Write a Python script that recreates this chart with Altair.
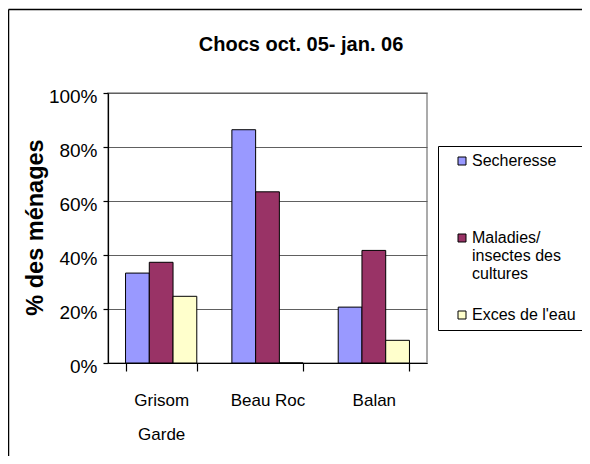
import altair as alt
import pandas as pd

sites = ["Grisom Garde", "Beau Roc", "Balan"]
series = ["Secheresse", "Maladies/ insectes des cultures", "Exces de l'eau"]
secheresse = [0.333, 0.864, 0.207]
maladies = [0.373, 0.634, 0.417]
exces = [0.247, 0.0, 0.084]
colors = ["#9999FF", "#993366", "#FFFFCC"]
y_ticks = [0, 0.2, 0.4, 0.6, 0.8, 1.0]
title_text = "Chocs oct. 05- jan. 06"
y_title = "% des ménages"

rows = []
for i, s in enumerate(sites):
    for name, vals in zip(series, [secheresse, maladies, exces]):
        rows.append({"site": s, "serie": name, "value": vals[i]})
df = pd.DataFrame(rows)

FONT = "Liberation Sans, Arial, sans-serif"
NB = "\u00a0"

legend_expr = (
    "datum.label == 'Maladies/ insectes des cultures' ? "
    f"['Maladies/', '{NB}', 'insectes des', 'cultures'] : "
    f"datum.label == 'Secheresse' ? ['Secheresse', '{NB}', '{NB}', '{NB}'] : datum.label"
)

bars = alt.Chart(df).mark_bar(stroke="black", strokeWidth=1).encode(
    x=alt.X(
        "site:N", sort=sites, title=None,
        scale=alt.Scale(paddingInner=0.33, paddingOuter=0.165),
        axis=alt.Axis(
            labelAngle=0, tickBand="extent", tickSize=8, labelPadding=21,
            labelExpr="datum.label == 'Grisom Garde' ? ['Grisom', 'Garde'] : datum.label",
            labelLineHeight=34, labelBaseline="top", labelFontSize=17,
            labelFont=FONT, labelColor="black", domainColor="black",
            tickColor="black", domainWidth=1.2, tickWidth=1.2, grid=False,
        ),
    ),
    xOffset=alt.XOffset("serie:N", sort=series,
                        scale=alt.Scale(paddingInner=0, paddingOuter=0)),
    y=alt.Y(
        "value:Q", scale=alt.Scale(domain=[0, 1]),
        axis=alt.Axis(
            values=y_ticks, format="%", tickSize=5, labelPadding=6,
            labelFontSize=19, labelFont=FONT, labelColor="black",
            labelOffset=3, domainColor="black", tickColor="black",
            domainWidth=1.2, tickWidth=1.2, grid=True, gridColor="#606060",
            gridWidth=1.1, title=y_title, titleFont=FONT, titleFontSize=23.5,
            titleFontWeight="bold", titleColor="black", titleX=-66, titleY=134,
            titleAngle=270, titleAlign="center", titleBaseline="alphabetic",
        ),
    ),
    color=alt.Color(
        "serie:N", sort=series,
        scale=alt.Scale(domain=series, range=colors),
        legend=alt.Legend(
            title=None, orient="none", legendX=330, legendY=53, padding=7,
            strokeColor="black", fillColor="white", symbolType="square",
            symbolSize=64, symbolStrokeColor="black", symbolStrokeWidth=1,
            symbolOffset=9, labelOffset=2, labelFontSize=16, labelFont=FONT,
            labelColor="black", labelLimit=300, rowPadding=7,
            labelBaseline="middle", labelExpr=legend_expr,
        ),
    ),
)

one = alt.Data(values=[{"k": 1}])
frame_top = alt.Chart(one).mark_rule(color="black", strokeWidth=1.5).encode(
    x=alt.value(-99.5), x2=alt.value(480), y=alt.value(-83.5)
)
frame_left = alt.Chart(one).mark_rule(color="black", strokeWidth=1.5).encode(
    x=alt.value(-99.5), y=alt.value(-83.5), y2=alt.value(400)
)

chart = alt.layer(bars, frame_top, frame_left).properties(
    width=319, height=270,
    title=alt.TitleParams(
        title_text, font=FONT, fontSize=20, fontWeight="bold",
        anchor="middle", frame="group", dx=33.5, dy=66, baseline="alphabetic",
        color="black",
    ),
    autosize=alt.AutoSizeParams(type="none"),
    padding={"left": 100, "top": 85, "right": 155, "bottom": 93},
).configure_view(stroke="#909090", strokeWidth=1.5)

chart.save("out.html", embed_options={"renderer": "svg", "actions": False})
